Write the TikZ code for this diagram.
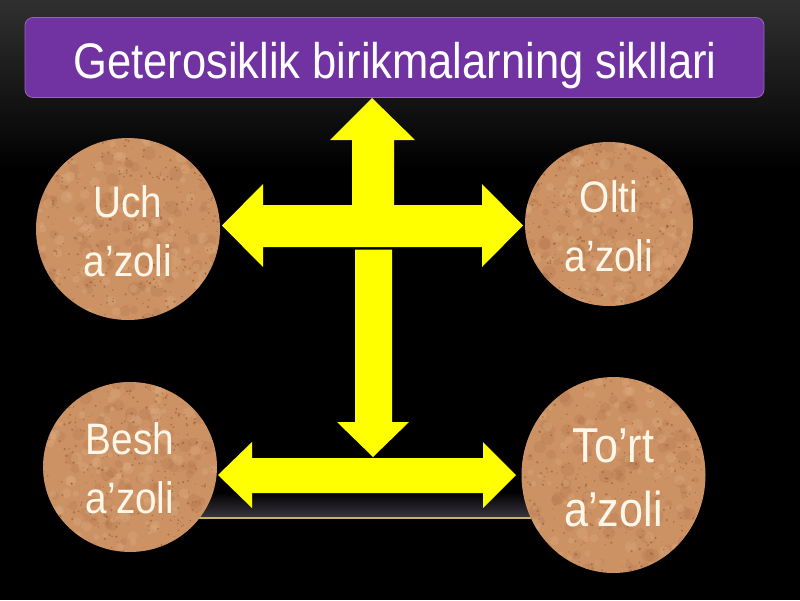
\documentclass[tikz,border=0pt]{standalone}
\usepackage{fontspec}
\setmainfont{Liberation Sans}
\usetikzlibrary{shapes.geometric}
\definecolor{bgtop}{RGB}{48,48,48}
\definecolor{titlepurple}{RGB}{113,50,162}
\definecolor{arrowyellow}{RGB}{255,255,0}
\definecolor{cork}{RGB}{204,146,100}
\definecolor{corkdark}{RGB}{150,88,45}
\definecolor{corkblot}{RGB}{176,112,70}
\definecolor{corklight}{RGB}{225,178,135}
\definecolor{cream}{RGB}{255,247,234}
\definecolor{bandgray}{RGB}{58,52,64}
\definecolor{linegold}{RGB}{200,180,100}
\newcommand\hsquish[1]{\scalebox{0.88}[1]{#1}}
\newcommand\corkdots[4]{%
  \begin{scope}
    \clip (#1,#2) ellipse [x radius=#3pt, y radius=#4pt];
    \foreach \k in {1,...,90} {
      \pgfmathsetmacro\px{#1+#3*rand}
      \pgfmathsetmacro\py{#2+#4*rand}
      \pgfmathsetmacro\sz{3+4*rnd}
      \fill[corkblot, opacity=0.25] (\px,\py) circle[radius=\sz pt];
    }
    \foreach \k in {1,...,110} {
      \pgfmathsetmacro\px{#1+#3*rand}
      \pgfmathsetmacro\py{#2+#4*rand}
      \pgfmathsetmacro\sz{2+4*rnd}
      \fill[corklight, opacity=0.3] (\px,\py) circle[radius=\sz pt];
    }
    \foreach \k in {1,...,320} {
      \pgfmathsetmacro\px{#1+#3*rand}
      \pgfmathsetmacro\py{#2+#4*rand}
      \pgfmathsetmacro\sz{0.4+1.0*rnd}
      \fill[corkdark, opacity=0.55] (\px,\py) circle[radius=\sz pt];
    }
  \end{scope}}
\begin{document}
\begin{tikzpicture}[x=1pt,y=-1pt,
  arrowfill/.style={fill=arrowyellow},
  disc/.style={ellipse, fill=cork, inner sep=0pt},
  disclabel/.style={text=cream, align=center, inner sep=0pt, font=\fontsize{44}{59}\selectfont},
  biglabel/.style={text=cream, align=center, inner sep=0pt, font=\fontsize{49}{64}\selectfont},
]
\pgfmathsetseed{7}
\useasboundingbox (0,0) rectangle (800,600);
% background
\fill[black] (0,0) rectangle (800,600);
\shade[top color=bgtop, bottom color=black] (0,0) rectangle (800,170);
% bottom decorative band and line
\shade[top color=black, bottom color=bandgray] (200,492) rectangle (532,517);
\draw[linegold, line width=1.3pt] (198,518) -- (534,518);
% title bar
\node[fill=titlepurple, draw=titlepurple!75!white, line width=0.8pt, rounded corners=8pt,
      minimum width=739pt, minimum height=80pt, inner sep=0pt] (title) at (394.5,57.5) {};
\node[anchor=base, text=white, inner sep=0pt, font=\fontsize{50}{60}\selectfont] (titletext) at (395,78)
  {\scalebox{0.87}[1]{Geterosiklik birikmalarning sikllari}};
% discs
\node[disc, minimum width=184pt, minimum height=182pt] (uch) at (128,229) {};
\node[disc, minimum width=168pt, minimum height=164pt] (olti) at (609,224) {};
\node[disc, minimum width=174pt, minimum height=170pt] (besh) at (130,467) {};
\node[disc, minimum width=184pt, minimum height=196pt] (tort) at (613.5,475) {};
\corkdots{128}{229}{92}{91}
\corkdots{609}{224}{84}{82}
\corkdots{130}{467}{87}{85}
\corkdots{613.5}{475}{92}{98}
% yellow arrows
\fill[arrowfill] (372,98) -- (415,140) -- (394,140) -- (394,205) -- (482,205) -- (482,184)
  -- (523,225.5) -- (482,267) -- (482,247) -- (263,247) -- (263,267) -- (222,225.5)
  -- (263,184) -- (263,205) -- (352,205) -- (352,140) -- (330,140) -- cycle;
\fill[arrowfill] (355,249.5) -- (392,249.5) -- (392,422) -- (409,422) -- (373,457)
  -- (337,422) -- (355,422) -- cycle;
\fill[arrowfill] (218,475) -- (252,442) -- (252,458) -- (483,458) -- (483,442) -- (516,475)
  -- (483,508) -- (483,493) -- (252,493) -- (252,508) -- cycle;
% disc labels
\node[disclabel] (uchtext) at (128,231.5) {\hsquish{Uch}\\\hsquish{a’zoli}};
\node[disclabel] (oltitext) at (609,226.5) {\hsquish{Olti}\\\hsquish{a’zoli}};
\node[disclabel] (beshtext) at (130,468.5) {\hsquish{Besh}\\\hsquish{a’zoli}};
\node[biglabel] (torttext) at (613.5,477.5) {\hsquish{To’rt}\\\hsquish{a’zoli}};
\end{tikzpicture}
\end{document}
